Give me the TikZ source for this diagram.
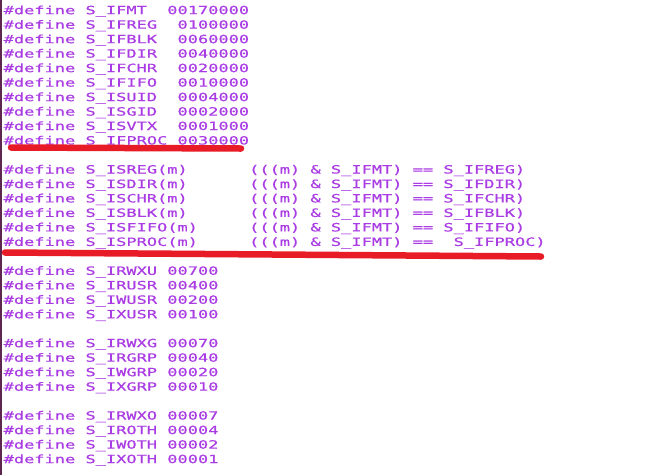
\documentclass[tikz,border=0pt]{standalone}
\usepackage{fontspec}
\usepackage{xcolor}
\usepackage{tikz}
\newfontfamily\codefont{DejaVu Sans Mono}[FakeStretch=1.49, FakeBold=0.6]

\definecolor{codepurple}{RGB}{170,60,228}
\definecolor{markred}{RGB}{232,28,38}
\definecolor{barpurple}{RGB}{94,39,80}

\begin{document}
\begin{tikzpicture}[x=1pt, y=-1pt]
    \tikzset{codeline/.style = {anchor=base west, inner sep=0pt, text=codepurple,
        font=\codefont\fontsize{11.4}{13}\selectfont}}
    \tikzset{redline/.style = {draw=markred, line width=6.5pt, line cap=round}}

    \useasboundingbox (0,0) rectangle (653,475);
    \fill[white] (0,0) rectangle (653,475);
    \fill[barpurple] (0,0) rectangle (2,475);

    % file type bits
    \node[codeline] (ifmt)   at (3.5,14.2)  {\#define S\_IFMT~~00170000};
    \node[codeline] (ifreg)  at (3.5,28.7)  {\#define S\_IFREG~~0100000};
    \node[codeline] (ifblk)  at (3.5,43.2)  {\#define S\_IFBLK~~0060000};
    \node[codeline] (ifdir)  at (3.5,57.6)  {\#define S\_IFDIR~~0040000};
    \node[codeline] (ifchr)  at (3.5,72.1)  {\#define S\_IFCHR~~0020000};
    \node[codeline] (ififo)  at (3.5,86.6)  {\#define S\_IFIFO~~0010000};
    \node[codeline] (isuid)  at (3.5,101.1) {\#define S\_ISUID~~0004000};
    \node[codeline] (isgid)  at (3.5,115.6) {\#define S\_ISGID~~0002000};
    \node[codeline] (isvtx)  at (3.5,130.0) {\#define S\_ISVTX~~0001000};
    \node[codeline] (ifproc) at (3.5,144.5) {\#define S\_IFPROC 0030000};

    % test macros
    \node[codeline] (isreg)  at (3.5,173.5) {\#define S\_ISREG(m)~~~~~~(((m) \& S\_IFMT) == S\_IFREG)};
    \node[codeline] (isdir)  at (3.5,188.0) {\#define S\_ISDIR(m)~~~~~~(((m) \& S\_IFMT) == S\_IFDIR)};
    \node[codeline] (ischr)  at (3.5,202.4) {\#define S\_ISCHR(m)~~~~~~(((m) \& S\_IFMT) == S\_IFCHR)};
    \node[codeline] (isblk)  at (3.5,216.9) {\#define S\_ISBLK(m)~~~~~~(((m) \& S\_IFMT) == S\_IFBLK)};
    \node[codeline] (isfifo) at (3.5,231.4) {\#define S\_ISFIFO(m)~~~~~(((m) \& S\_IFMT) == S\_IFIFO)};
    \node[codeline] (isproc) at (3.5,245.9) {\#define S\_ISPROC(m)~~~~~(((m) \& S\_IFMT) ==~~S\_IFPROC)};

    % permission bits
    \node[codeline] (irwxu)  at (3.5,274.8) {\#define S\_IRWXU 00700};
    \node[codeline] (irusr)  at (3.5,289.3) {\#define S\_IRUSR 00400};
    \node[codeline] (iwusr)  at (3.5,303.8) {\#define S\_IWUSR 00200};
    \node[codeline] (ixusr)  at (3.5,318.3) {\#define S\_IXUSR 00100};

    \node[codeline] (irwxg)  at (3.5,347.2) {\#define S\_IRWXG 00070};
    \node[codeline] (irgrp)  at (3.5,361.7) {\#define S\_IRGRP 00040};
    \node[codeline] (iwgrp)  at (3.5,376.2) {\#define S\_IWGRP 00020};
    \node[codeline] (ixgrp)  at (3.5,390.7) {\#define S\_IXGRP 00010};

    \node[codeline] (irwxo)  at (3.5,419.6) {\#define S\_IRWXO 00007};
    \node[codeline] (iroth)  at (3.5,434.1) {\#define S\_IROTH 00004};
    \node[codeline] (iwoth)  at (3.5,448.6) {\#define S\_IWOTH 00002};
    \node[codeline] (ixoth)  at (3.5,463.1) {\#define S\_IXOTH 00001};

    % hand-drawn underlines
    \draw[redline] (11,147.5) -- (241,148.5);
    \draw[redline] (5,252.5) -- (541,256.5);
\end{tikzpicture}
\end{document}
